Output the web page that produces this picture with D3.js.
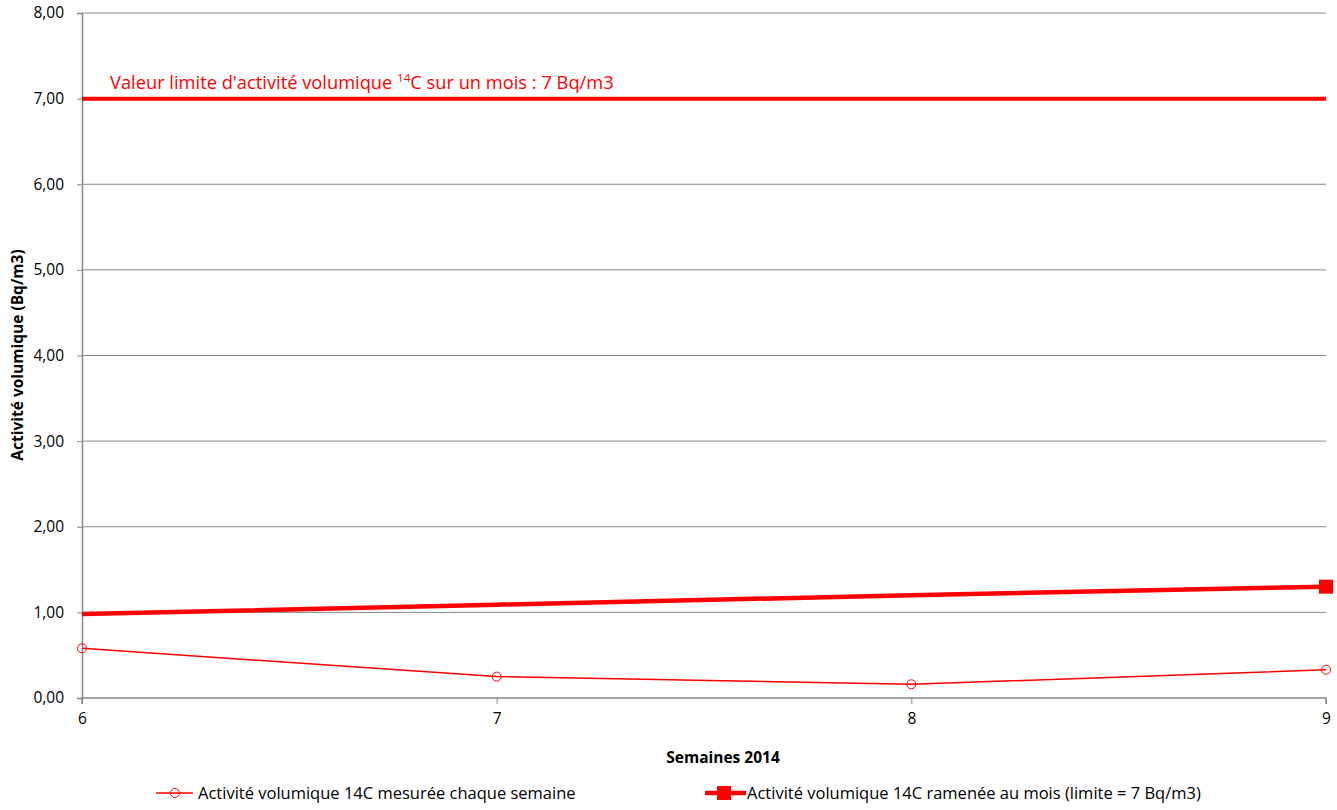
<!DOCTYPE html>
<html><head><meta charset="utf-8">
<script src="https://cdn.jsdelivr.net/npm/d3@7"></script>
<style>body{margin:0;background:#fff;}svg{display:block;font-family:"Open Sans",sans-serif;}</style>
</head><body>
<svg id="chart" width="1337" height="810"></svg>
<script>
const weeks = [6, 7, 8, 9];
const weeklyValues = [0.58, 0.25, 0.16, 0.33];
const monthlyValues = [0.98, 1.09, 1.20, 1.30];
const limitValue = 7;
const yTicks = [0, 1, 2, 3, 4, 5, 6, 7, 8];
const seriesNames = ["Activité volumique 14C mesurée chaque semaine", "Activité volumique 14C ramenée au mois (limite = 7 Bq/m3)"];

const svg = d3.select("#chart");
const red = "#ff0000", grid = "#888888";
const x = d3.scaleLinear().domain([6, 9]).range([82, 1326]);
const y = d3.scaleLinear().domain([0, 8]).range([698, 13]);
const fmt = d => d3.format(".2f")(d).replace(".", ",");

// gridlines
svg.append("g").selectAll("line").data(yTicks.filter(d => d > 0)).join("line")
  .attr("x1", x(6)).attr("x2", x(9)).attr("y1", d => y(d)).attr("y2", d => y(d))
  .attr("stroke", grid).attr("stroke-width", 1);

// y axis
const ya = svg.append("g").attr("transform", `translate(${x(6)},0)`)
  .call(d3.axisLeft(y).tickValues(yTicks).tickFormat(fmt).tickSize(5).tickPadding(13));
ya.attr("font-size", null).attr("font-family", null);
ya.select(".domain").attr("stroke", grid).attr("stroke-width", 1.5);
ya.selectAll(".tick line").attr("stroke", grid);
ya.selectAll("text").style("font-size", "15.5px").attr("fill", "#000");

// x axis
const xa = svg.append("g").attr("transform", `translate(0,${y(0)})`)
  .call(d3.axisBottom(x).tickValues(weeks).tickFormat(d3.format("d")).tickSize(6).tickPadding(9));
xa.attr("font-size", null).attr("font-family", null);
xa.select(".domain").attr("stroke", grid).attr("stroke-width", 1.5).attr("d", `M${x(6)},6V0H${x(9)}V6`);
xa.selectAll(".tick line").attr("stroke", grid);
xa.selectAll("text").style("font-size", "15.5px").attr("fill", "#000");

// limit line
svg.append("line").attr("x1", x(6)).attr("x2", x(9)).attr("y1", y(limitValue)).attr("y2", y(limitValue))
  .attr("stroke", red).attr("stroke-width", 4);
const ann = svg.append("text").attr("x", 110).attr("y", y(limitValue) - 10).attr("fill", red)
  .style("font-size", "18.3px");
ann.append("tspan").text("Valeur limite d'activité volumique ");
ann.append("tspan").style("font-size", "11.5px").attr("dy", -7).text("14");
ann.append("tspan").attr("dy", 7).text("C sur un mois : 7 Bq/m3");

// monthly line
const line = d3.line().x((d, i) => x(weeks[i])).y(d => y(d));
svg.append("path").datum(monthlyValues).attr("d", line).attr("fill", "none")
  .attr("stroke", red).attr("stroke-width", 4.5);
svg.append("rect").attr("x", x(weeks[3]) - 7).attr("y", y(monthlyValues[3]) - 7)
  .attr("width", 14).attr("height", 14).attr("fill", red);

// weekly line
svg.append("path").datum(weeklyValues).attr("d", line).attr("fill", "none")
  .attr("stroke", red).attr("stroke-width", 1.5);
svg.append("g").selectAll("circle").data(weeklyValues).join("circle")
  .attr("cx", (d, i) => x(weeks[i])).attr("cy", d => y(d)).attr("r", 4.5)
  .attr("fill", "none").attr("stroke", red).attr("stroke-width", 1);

// axis titles
svg.append("text").attr("x", 723).attr("y", 763).attr("text-anchor", "middle")
  .attr("font-weight", "bold").style("font-size", "15.5px").text("Semaines 2014");
svg.append("text").attr("transform", "translate(23,355) rotate(-90)").attr("text-anchor", "middle")
  .attr("font-weight", "bold").style("font-size", "15.5px").text("Activité volumique (Bq/m3)");

// legend
const ly = 793;
const lg = svg.append("g");
lg.append("line").attr("x1", 156).attr("x2", 193).attr("y1", ly).attr("y2", ly).attr("stroke", red).attr("stroke-width", 1.5);
lg.append("circle").attr("cx", 175).attr("cy", ly).attr("r", 4.5).attr("fill", "none").attr("stroke", red);
lg.append("text").attr("x", 198).attr("y", ly + 6).style("font-size", "16.5px").text(seriesNames[0]);
lg.append("line").attr("x1", 705).attr("x2", 746).attr("y1", ly).attr("y2", ly).attr("stroke", red).attr("stroke-width", 4.5);
lg.append("rect").attr("x", 717).attr("y", ly - 7).attr("width", 14).attr("height", 14).attr("fill", red);
lg.append("text").attr("x", 747).attr("y", ly + 6).style("font-size", "16.5px").text(seriesNames[1]);
</script>
</body></html>
